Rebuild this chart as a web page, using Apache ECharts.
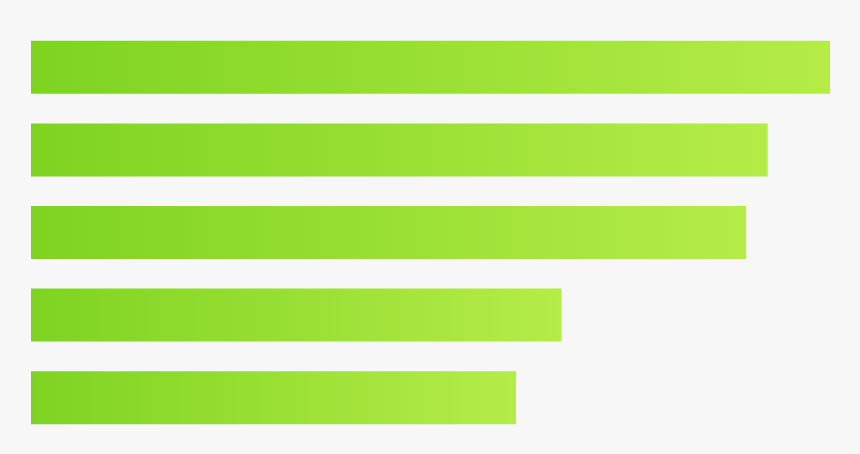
<!DOCTYPE html>
<html><head><meta charset="utf-8">
<script src="https://cdn.jsdelivr.net/npm/echarts@6/dist/echarts.min.js"></script>
<style>html,body{margin:0;padding:0;background:#f7f7f7}#c{width:860px;height:454px}</style>
</head><body><div id="c"></div>
<script>
const categories = ['A', 'B', 'C', 'D', 'E'];
const values = [100, 92.2, 89.5, 66.4, 60.7];
const chart = echarts.init(document.getElementById('c'));
chart.setOption({
  backgroundColor: '#f7f7f7',
  animation: false,
  grid: { left: 31, right: 30, top: 26, bottom: 15, containLabel: false },
  xAxis: { type: 'value', min: 0, max: 100, show: false },
  yAxis: { type: 'category', data: categories, inverse: true, show: false },
  series: [{
    type: 'bar',
    data: values,
    barWidth: 53,
    itemStyle: {
      color: new echarts.graphic.LinearGradient(0, 0, 1, 0, [
        { offset: 0, color: '#7ed321' },
        { offset: 1, color: '#b5ec47' }
      ])
    }
  }]
});
</script></body></html>
